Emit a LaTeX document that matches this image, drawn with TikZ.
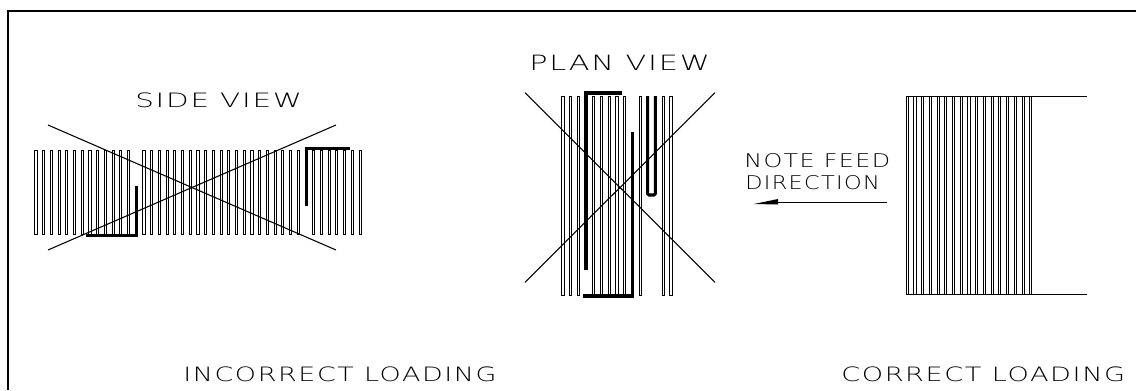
\documentclass[tikz,border=0pt]{standalone}
\usepackage{graphicx}
\usepackage{fontspec}
\setmainfont{DejaVu Sans ExtraLight}
\newfontfamily\cadfont[LetterSpace=6]{DejaVu Sans ExtraLight}
\tikzset{
  plate/.style={draw=black,line width=0.72pt},
  heavy/.style={draw=black,line width=2.3pt},
  thinline/.style={draw=black,line width=0.8pt},
  frameline/.style={draw=black,line width=1.6pt},
  cad/.style={inner sep=0pt,anchor=south west}
}
\newcommand{\plateat}[3]{\draw[plate] (#1-1.05,#3) -- (#1-1.05,#2) -- (#1+1.05,#2) -- (#1+1.05,#3) -- cycle;}
\begin{document}
\begin{tikzpicture}[x=0.75pt,y=-0.75pt]
\useasboundingbox (0,0) rectangle (1136,390);
\draw[frameline] (8,390) -- (8,11) -- (1136,11);
% side view
\foreach \i in {0,...,42}{
  \ifnum\i=13\relax\else\ifnum\i=35\relax\else
    \pgfmathsetmacro{\xx}{36+7.715*\i}
    \plateat{\xx}{150}{234}
  \fi\fi
}
\draw[heavy] (86,235.3) -- (136.5,235.3) -- (136.5,186);
\draw[heavy] (350,148.7) -- (306.3,148.7) -- (306.3,205.7);
\draw[thinline] (48,125) -- (336,250);
\draw[thinline] (48,250) -- (336,125);
% plan view
\foreach \i in {0,...,14}{
  \ifnum\i=3\relax\else\ifnum\i=9\relax\else\ifnum\i=11\relax\else\ifnum\i=12\relax\else
    \pgfmathsetmacro{\xx}{563+7.715*\i}
    \plateat{\xx}{96}{295}
  \fi\fi\fi\fi
}
\draw[heavy] (622,93) -- (586,93) -- (586,270);
\draw[heavy] (583,296) -- (632.5,296) -- (632.5,132);
\draw[heavy,rounded corners=1pt] (647.6,96) -- (647.6,195) -- (655.3,195) -- (655.3,96);
\draw[thinline] (525,92.7) -- (715,282.3);
\draw[thinline] (715,92.7) -- (525,282.3);
% correct
\foreach \i in {0,...,16}{
  \pgfmathsetmacro{\xx}{907.3+7.715*\i}
  \plateat{\xx}{96.7}{294.7}
}
\draw[thinline] (906,96.5) -- (1086.7,96.5);
\draw[thinline] (906,294.7) -- (1086.7,294.7);
% arrow
\draw[thinline] (887,202.7) -- (778,202.7);
\fill[black] (754,204) -- (778,199) -- (778,204.5) -- cycle;
% text
\node[cad] (sv) at (135,108) {\resizebox{125pt}{11pt}{\cadfont SIDE VIEW}};
\node[cad] (pv) at (529,70.5) {\resizebox{135.5pt}{11.5pt}{\cadfont PLAN VIEW}};
\node[cad] (nf) at (744,168) {\resizebox{109.5pt}{10.5pt}{\cadfont NOTE FEED}};
\node[cad] (dr) at (745,190.5) {\resizebox{101pt}{10.5pt}{\cadfont DIRECTION}};
\node[cad] (il) at (183,382) {\resizebox{235pt}{11pt}{\cadfont INCORRECT LOADING}};
\node[cad] (cl) at (841,382) {\resizebox{213pt}{11pt}{\cadfont CORRECT LOADING}};
\end{tikzpicture}
\end{document}
